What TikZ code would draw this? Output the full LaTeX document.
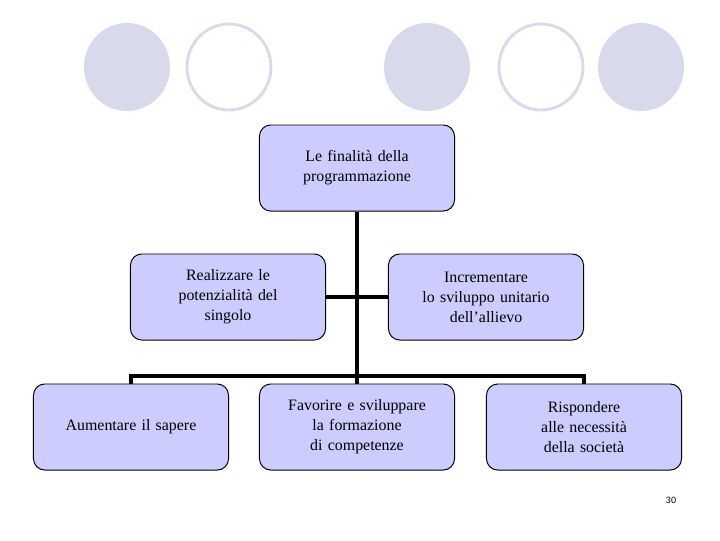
\documentclass[tikz,border=0pt]{standalone}
\usepackage{fontspec}
\setmainfont{Liberation Serif}
\newfontfamily\numfont{Liberation Sans}
\definecolor{boxfill}{RGB}{204,204,255}
\definecolor{dotcol}{RGB}{217,217,236}
\begin{document}
\begin{tikzpicture}[
        x=0.025cm, y=-0.025cm,
        goal/.style={draw=black, line width=0.7pt, fill=boxfill, rounded corners=8pt,
            minimum width=4.875cm, minimum height=2.15cm, text width=4.6cm, align=center,
            font=\fontsize{11.3}{14.2}\selectfont},
        link/.style={line width=2.6pt},
        dotfull/.style={fill=dotcol},
        dotring/.style={draw=dotcol, line width=2pt}
    ]
        \useasboundingbox (0,0) rectangle (720,540);

        % Decorative circles
        \fill[dotfull] (127,67) ellipse (43 and 44);
        \draw[dotring] (229,67) ellipse (42 and 43);
        \fill[dotfull] (427,67) ellipse (43 and 44);
        \draw[dotring] (541,67) ellipse (42 and 43);
        \fill[dotfull] (641,67) ellipse (43 and 44);

        % Boxes
        \node[goal] (top) at (357,168) {Le finalità della\\programmazione};
        \node[goal] (real) at (228,297) {Realizzare le\\potenzialità del\\singolo};
        \node[goal] (incr) at (486,297) {Incrementare\\lo sviluppo unitario\\dell’allievo};
        \node[goal] (aum) at (131,427) {Aumentare il sapere};
        \node[goal] (fav) at (357,427) {Favorire e sviluppare\\la formazione\\di competenze};
        \node[goal] (ris) at (584,427) {Rispondere\\alle necessità\\della società};
        \coordinate (bus) at (357,376);

        % Links
        \draw[link] (top.south) -- (fav.north);
        \draw[link] (real.east) -- (incr.west);
        \draw[link] (aum.north) -- (aum.north |- bus) -- (ris.north |- bus) -- (ris.north);

        % Page number
        \node[font=\numfont\fontsize{6.5}{7}\selectfont] (page) at (671,500) {30};
\end{tikzpicture}
\end{document}
